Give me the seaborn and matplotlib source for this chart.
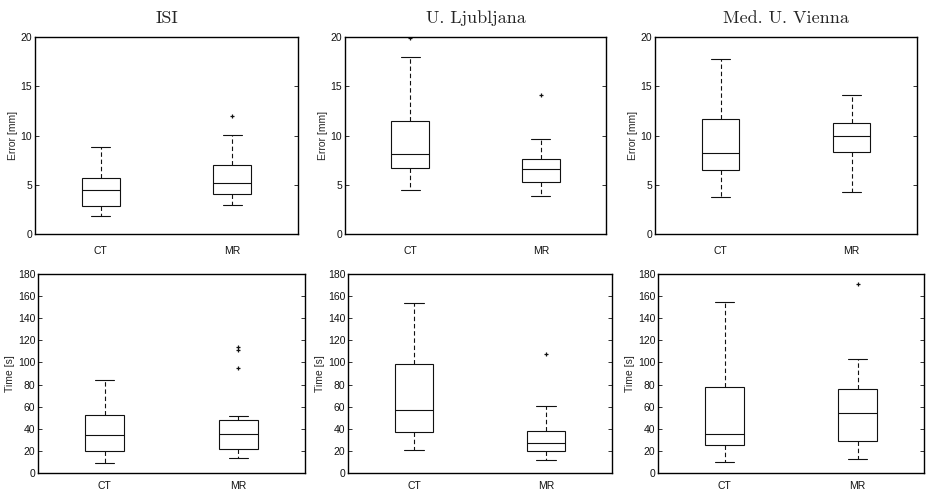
import matplotlib
matplotlib.use("Agg")
import matplotlib.pyplot as plt
import numpy as np
import pandas as pd
import seaborn as sns

sites = ["ISI", "U. Ljubljana", "Med. U. Vienna"]
modalities = ["CT", "MR"]

# Registration error [mm] per site, each entry is (CT, MR)
error_whislo = [[1.80, 2.95], [4.46, 3.84], [3.76, 4.24]]
error_q1 = [[2.88, 4.10], [6.67, 5.31], [6.51, 8.37]]
error_median = [[4.51, 5.15], [8.13, 6.63], [8.27, 9.97]]
error_q3 = [[5.73, 7.05], [11.50, 7.65], [11.66, 11.22]]
error_whishi = [[8.85, 10.07], [17.99, 9.66], [17.73, 14.14]]
error_outliers = [[[], [12.03]], [[19.85], [14.15]], [[], []]]

# Registration time [s] per site, each entry is (CT, MR)
time_whislo = [[9.0, 13.8], [21.1, 12.0], [10.2, 12.9]]
time_q1 = [[19.9, 22.0], [37.0, 19.9], [25.6, 28.6]]
time_median = [[34.3, 35.5], [56.6, 27.1], [35.5, 54.2]]
time_q3 = [[52.4, 48.2], [98.4, 37.6], [77.7, 75.6]]
time_whishi = [[84.0, 51.2], [154.1, 60.2], [155.0, 103.2]]
time_outliers = [[[], [95.1, 111.4, 114.1]], [[], [107.2]], [[], [171.0]]]

error_ticks = [0, 5, 10, 15, 20]
time_ticks = [0, 20, 40, 60, 80, 100, 120, 140, 160, 180]

sns.set_theme(style="white")
plt.rcParams["font.family"] = ["Liberation Sans", "DejaVu Sans"]

W, H = 929, 492
fig = plt.figure(figsize=(W / 100, H / 100), dpi=100)

# axes boxes in pixels: left, top, right, bottom
rects = [
    [(35, 37, 298, 234), (345, 37, 606, 234), (655, 37, 917, 234)],
    [(38, 274, 305, 473), (348, 274, 612, 473), (658, 274, 924, 473)],
]


def summary_frame(lo, q1, med, q3, hi, i):
    rows = []
    for j, m in enumerate(modalities):
        for v in (lo[i][j], q1[i][j], med[i][j], q3[i][j], hi[i][j]):
            rows.append({"modality": m, "value": v})
    return pd.DataFrame(rows)


def outlier_frame(outliers, i):
    rows = []
    for j, m in enumerate(modalities):
        for v in outliers[i][j]:
            rows.append({"pos": j, "value": v})
    return pd.DataFrame(rows, columns=["pos", "value"])


metrics = [
    (error_whislo, error_q1, error_median, error_q3, error_whishi,
     error_outliers, "Error [mm]", error_ticks, 9),
    (time_whislo, time_q1, time_median, time_q3, time_whishi,
     time_outliers, "Time [s]", time_ticks, 5.5),
]

for r, (lo, q1, med, q3, hi, outl, ylabel, yticks, xpad) in enumerate(metrics):
    for i, site in enumerate(sites):
        L, T, R, B = rects[r][i]
        ax = fig.add_axes([L / W, 1 - B / H, (R - L) / W, (B - T) / H])
        df = summary_frame(lo, q1, med, q3, hi, i)
        sns.boxplot(
            data=df, x="modality", y="value", order=modalities,
            whis=(0, 100), width=0.29, color="white", linecolor="#111111",
            linewidth=0.8, showfliers=False, ax=ax,
            whiskerprops={"linestyle": (0, (4, 2.5))},
        )
        odf = outlier_frame(outl, i)
        if len(odf):
            sns.scatterplot(data=odf, x="pos", y="value", marker="+",
                            color="#111111", s=6, linewidth=0.9, ax=ax,
                            legend=False)
        ax.set_xlim(-0.5, 1.5)
        ax.set_ylim(yticks[0], yticks[-1])
        ax.set_yticks(yticks)
        ax.set_xticks([0, 1])
        ax.set_xticklabels(modalities)
        ax.set_xlabel("")
        ax.set_ylabel(ylabel, fontsize=7.5, labelpad=2)
        ax.tick_params(axis="y", direction="in", left=True, right=True,
                       length=3, width=0.6, labelsize=7.5, pad=2,
                       colors="#111111")
        ax.tick_params(axis="x", length=0, labelsize=7.5, pad=xpad,
                       colors="#111111")
        for s in ax.spines.values():
            s.set_visible(True)
            s.set_color("black")
            s.set_linewidth(1.0)
        if r == 0:
            ax.set_title(site, fontsize=13, family="cmr10", pad=10)

fig.savefig("out.png", dpi=100)
